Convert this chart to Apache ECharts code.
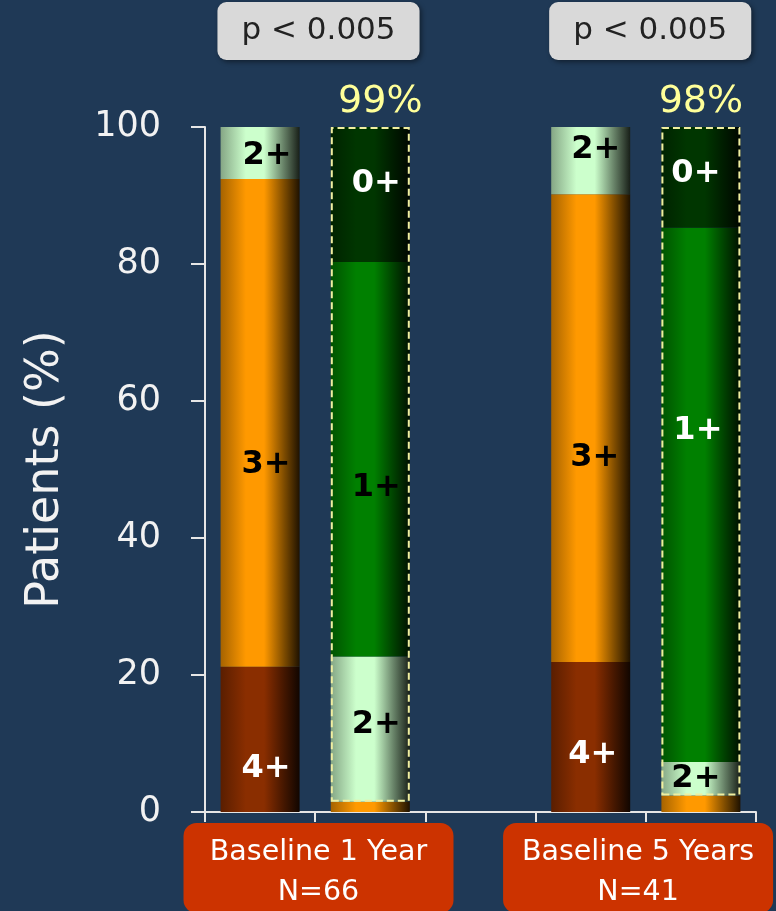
<!DOCTYPE html>
<html>
<head>
<meta charset="utf-8">
<script src="https://cdn.jsdelivr.net/npm/echarts@6/dist/echarts.min.js"></script>
<style>
  html, body { margin: 0; padding: 0; background: #1f3956; }
  #chart { width: 776px; height: 911px; }
</style>
</head>
<body>
<div id="chart"></div>
<script>
// Bar slots: baseline / follow-up for each cohort, empty slot between cohorts
const slots = ['Baseline (1 Year cohort)', '1 Year', '', 'Baseline (5 Years cohort)', '5 Years'];
const followUp = [false, true, false, false, true];

// Percentage of patients per regurgitation grade, stacked bottom to top
const grades = ['4+', '3+', '2+', '1+', '0+'];
const grade4 = [21.2, 0, null, 21.9, 0];
const grade3 = [71.2, 1.5, null, 68.3, 2.4];
const grade2 = [7.6, 21.2, null, 9.8, 4.9];
const grade1 = [0, 57.6, null, 0, 78.0];
const grade0 = [0, 19.7, null, 0, 14.7];

// Cohort captions and significance
const groupLabels = ['Baseline 1 Year\nN=66', 'Baseline 5 Years\nN=41'];
const pValues = ['p < 0.005', 'p < 0.005'];

// Y axis ticks
const yTicks = [0, 20, 40, 60, 80, 100];

// ---- layout & styling ----
// anchor of each caption / p-value box, in slot units along the x axis
const captionAt = [1.03, 3.93];
const pBoxAt = [1.03, 4.04];

const gradeColor = { '4+': '#8a2e00', '3+': '#ff9900', '2+': '#ccffcc', '1+': '#008000', '0+': '#003600' };
const labelInk = {
  '4+': '#ffffff', '3+': '#000000', '2+': '#000000',
  '1+': [null, '#000000', null, null, '#ffffff'],
  '0+': '#ffffff'
};
// Nudge of each grade label inside its segment [dx, dy]
const labelShift = {
  '4+': [[6, 29], null, null, [2, 18], null],
  '3+': [[6, 42], null, null, [4, 30], null],
  '2+': [[7, 3], [6, -4], null, [5, -11], [-5, 0]],
  '1+': [null, [6, 28], null, null, [-3, -64]],
  '0+': [null, [6, -11], null, null, [-5, -4]],
  total: [null, [10, 0], null, null, [0, 0]]
};
const FONT = 'DejaVu Sans';
const BAR_W = 79;

function shade(hex, k) {
  const n = parseInt(hex.slice(1), 16);
  const r = Math.round(((n >> 16) & 255) * k);
  const g = Math.round(((n >> 8) & 255) * k);
  const b = Math.round((n & 255) * k);
  return 'rgb(' + r + ',' + g + ',' + b + ')';
}
// Cylinder-like shading across the bar width
function cylinder(hex) {
  return new echarts.graphic.LinearGradient(0, 0, 1, 0, [
    { offset: 0, color: shade(hex, 0.65) },
    { offset: 0.32, color: hex },
    { offset: 0.55, color: hex },
    { offset: 0.8, color: shade(hex, 0.5) },
    { offset: 1, color: shade(hex, 0.12) }
  ]);
}

const gradeValues = { '4+': grade4, '3+': grade3, '2+': grade2, '1+': grade1, '0+': grade0 };

const gradeSeries = grades.map(function (g) {
  const ink = labelInk[g];
  return {
    name: g,
    type: 'bar',
    stack: 'grade',
    barWidth: BAR_W,
    barGap: '-100%',
    itemStyle: { color: cylinder(gradeColor[g]) },
    label: {
      show: false,
      position: 'inside',
      formatter: g,
      fontFamily: FONT,
      fontWeight: 'bold',
      fontSize: 32
    },
    data: gradeValues[g].map(function (v, i) {
      if (v == null) return '-';
      const shift = labelShift[g][i] || [0, 0];
      return {
        value: v,
        label: {
          show: v >= 4,
          offset: shift,
          color: Array.isArray(ink) ? (ink[i] || '#ffffff') : ink
        }
      };
    })
  };
});

// Dashed box enclosing grades 0+ to 2+ at follow-up
const boxBase = slots.map(function (s, i) { return followUp[i] ? grade4[i] + grade3[i] : '-'; });
const boxTotal = slots.map(function (s, i) {
  if (!followUp[i]) return '-';
  return {
    value: +(grade2[i] + grade1[i] + grade0[i]).toFixed(1),
    label: { offset: labelShift.total[i] || [0, 0] }
  };
});

const option = {
  animation: false,
  backgroundColor: '#1f3956',
  grid: { left: 205, right: 20, top: 127, bottom: 99, outerBoundsMode: 'none' },
  xAxis: [
    {
      type: 'category',
      data: slots,
      boundaryGap: true,
      axisLine: { show: true, lineStyle: { color: '#e6e6e6', width: 2 } },
      axisTick: { show: true, length: 10, interval: 0, lineStyle: { color: '#e6e6e6', width: 2 } },
      axisLabel: { show: false },
      splitLine: { show: false }
    },
    {
      type: 'value',
      position: 'bottom',
      min: 0,
      max: slots.length,
      axisLine: { show: false },
      axisTick: { show: false },
      splitLine: { show: false },
      axisLabel: {
        customValues: captionAt,
        formatter: function (v) { return groupLabels[captionAt.indexOf(v)]; },
        color: '#ffffff',
        fontFamily: FONT,
        fontSize: 28.5,
        lineHeight: 40,
        width: 252,
        align: 'center',
        backgroundColor: '#cc3300',
        borderRadius: 13,
        padding: [10, 9, 0, 9],
        margin: 11
      }
    },
    {
      type: 'value',
      position: 'top',
      min: 0,
      max: slots.length,
      axisLine: { show: false },
      axisTick: { show: false },
      splitLine: { show: false },
      axisLabel: {
        customValues: pBoxAt,
        formatter: function (v) { return pValues[pBoxAt.indexOf(v)]; },
        color: '#222222',
        fontFamily: FONT,
        fontSize: 31,
        lineHeight: 34,
        backgroundColor: '#d9d9d9',
        borderRadius: 9,
        padding: [12, 24, 12, 24],
        shadowColor: 'rgba(0,0,0,0.45)',
        shadowBlur: 5,
        shadowOffsetX: 2,
        shadowOffsetY: 2,
        margin: 67
      }
    }
  ],
  yAxis: {
    type: 'value',
    min: yTicks[0],
    max: yTicks[yTicks.length - 1],
    interval: yTicks[1] - yTicks[0],
    name: 'Patients (%)',
    nameLocation: 'middle',
    nameGap: 136,
    nameTextStyle: { color: '#f2f2f2', fontFamily: FONT, fontSize: 46 },
    axisLine: { show: true, lineStyle: { color: '#e6e6e6', width: 2 } },
    axisTick: { show: true, length: 14, lineStyle: { color: '#e6e6e6', width: 2 } },
    splitLine: { show: false },
    axisLabel: { color: '#f2f2f2', fontFamily: FONT, fontSize: 35, margin: 44 }
  },
  series: gradeSeries.concat([
    {
      name: 'box base',
      type: 'bar',
      stack: 'box',
      barWidth: BAR_W,
      barGap: '-100%',
      silent: true,
      itemStyle: { color: 'rgba(0,0,0,0)' },
      data: boxBase
    },
    {
      name: 'grade 0-2',
      type: 'bar',
      stack: 'box',
      barWidth: BAR_W,
      barGap: '-100%',
      silent: true,
      itemStyle: {
        color: 'rgba(0,0,0,0)',
        borderColor: '#f0efa0',
        borderWidth: 2,
        borderType: [7, 4]
      },
      label: {
        show: true,
        position: 'top',
        distance: 6,
        formatter: function (p) { return Math.round(p.value) + '%'; },
        color: '#ffff99',
        fontFamily: FONT,
        fontSize: 38
      },
      data: boxTotal
    }
  ])
};

const chart = echarts.init(document.getElementById('chart'), null, { renderer: 'canvas' });
chart.setOption(option);
</script>
</body>
</html>
